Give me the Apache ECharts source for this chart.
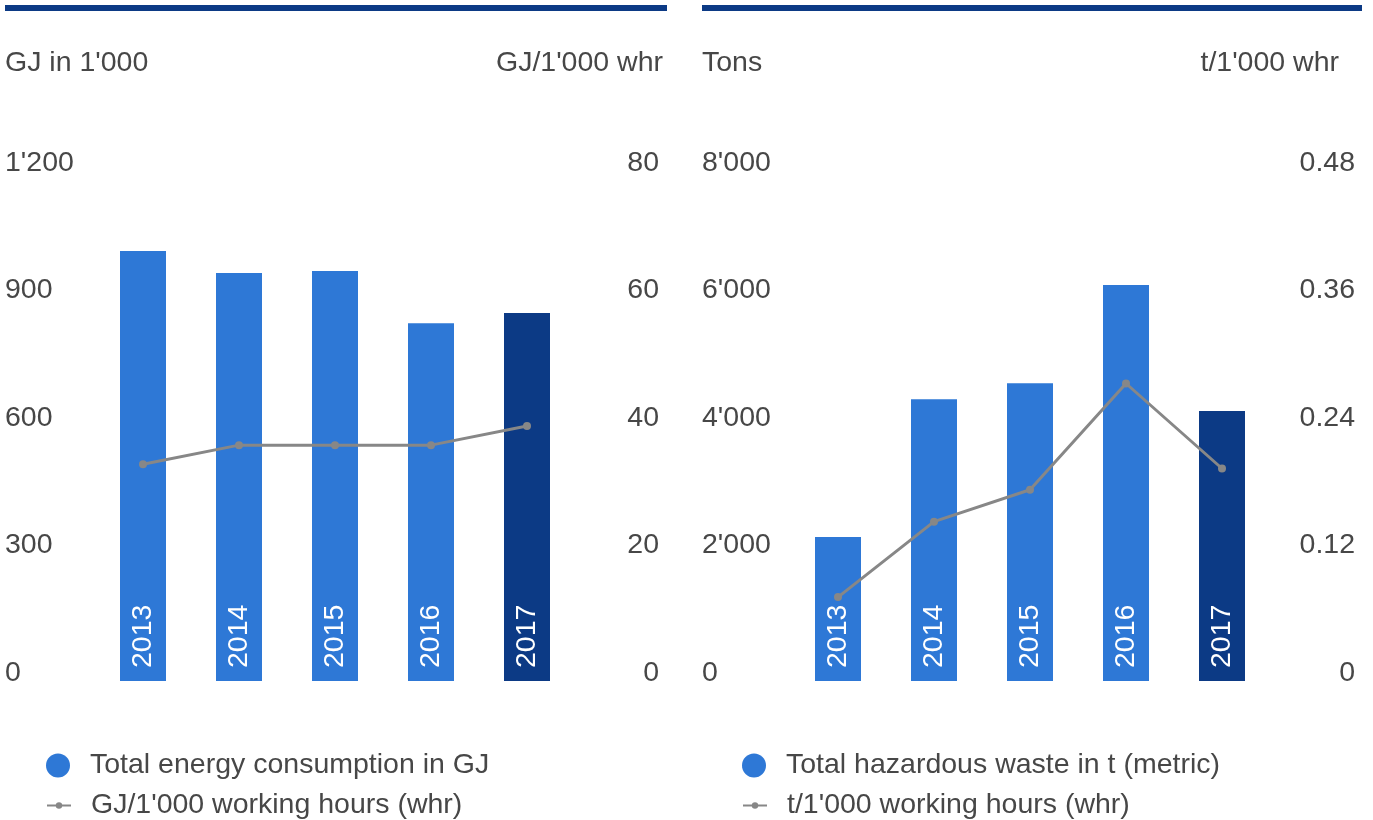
<!DOCTYPE html>
<html>
<head>
<meta charset="utf-8">
<script src="https://cdn.jsdelivr.net/npm/echarts@6/dist/echarts.min.js"></script>
<style>
html,body{margin:0;padding:0;background:#fff;}
#c{width:1373px;height:820px;}
</style>
</head>
<body>
<div id="c"></div>
<script>
const categories = ['2013', '2014', '2015', '2016', '2017'];
const energyValues = [1012, 960, 965, 842, 866];
const energyIntensity = [34, 37, 37, 37, 40];
const wasteValues = [2260, 4420, 4670, 6210, 4235];
const wasteIntensity = [0.079, 0.150, 0.180, 0.280, 0.200];
const energyTicks = {min: 0, max: 1200, interval: 300};
const energyRateTicks = {min: 0, max: 80, interval: 20};
const wasteTicks = {min: 0, max: 8000, interval: 2000};
const wasteRateTicks = {min: 0, max: 0.48, interval: 0.12};
const seriesNames = ['Total energy consumption in GJ', "GJ/1'000 working hours (whr)", 'Total hazardous waste in t (metric)', "t/1'000 working hours (whr)"];
const axisTitles = ["GJ in 1'000", "GJ/1'000 whr", 'Tons', "t/1'000 whr"];

const FONT = 'Liberation Sans, Arial, sans-serif';
const FS = 28.5;
const TXT = '#474747';
const BLUE = '#2e78d6';
const NAVY = '#0c3a85';
const GRAY = '#878787';

function thousands(v) {
  return String(Math.round(v)).replace(/\B(?=(\d{3})+(?!\d))/g, "'");
}
function decimals(v) {
  return v === 0 ? '0' : v.toFixed(2);
}
function barData(vals) {
  return vals.map((v, i) => i === vals.length - 1 ? {value: v, itemStyle: {color: NAVY}} : v);
}
function yAxis(grid, ticks, pos, margin, fmt) {
  return {
    type: 'value', gridIndex: grid, position: pos,
    min: ticks.min, max: ticks.max, interval: ticks.interval,
    splitLine: {show: false}, axisLine: {show: false}, axisTick: {show: false},
    axisLabel: {
      margin: margin, align: pos === 'left' ? 'left' : 'right',
      verticalAlign: 'bottom', lineHeight: 16,
      color: TXT, fontSize: FS, fontFamily: FONT, formatter: fmt
    }
  };
}
function title(text, pos) {
  return Object.assign({text: text, top: 49, padding: 0,
    textStyle: {color: TXT, fontSize: FS, fontWeight: 'normal', fontFamily: FONT}}, pos);
}
function legend(name, left, top, isLine) {
  return {
    data: [isLine ? name : {name: name, icon: 'circle'}],
    left: left, top: top, padding: 0,
    itemWidth: 24, itemHeight: isLine ? 8 : 24,
    textStyle: {color: TXT, fontSize: FS, fontFamily: FONT, padding: [0, 0, 0, 15]}
  };
}
const barLabel = {
  show: true, position: 'insideBottom', rotate: 90, align: 'left', verticalAlign: 'middle',
  distance: 13, color: '#fff', fontSize: FS, fontFamily: FONT, formatter: '{b}'
};

const chart = echarts.init(document.getElementById('c'));
chart.setOption({
  animation: false,
  backgroundColor: '#fff',
  title: [
    title(axisTitles[0], {left: 5}),
    title(axisTitles[1], {right: 1373 - 663}),
    title(axisTitles[2], {left: 702}),
    title(axisTitles[3], {right: 1373 - 1339})
  ],
  graphic: [
    {type: 'rect', shape: {x: 5, y: 5, width: 662, height: 6}, style: {fill: NAVY}},
    {type: 'rect', shape: {x: 702, y: 5, width: 660, height: 6}, style: {fill: NAVY}}
  ],
  legend: [
    legend(seriesNames[0], 46, 751, false),
    legend(seriesNames[1], 46, 791, true),
    legend(seriesNames[2], 742, 751, false),
    legend(seriesNames[3], 742, 791, true)
  ],
  grid: [
    {left: 95, width: 480, top: 171, height: 510},
    {left: 790, width: 480, top: 171, height: 510}
  ],
  xAxis: [
    {type: 'category', gridIndex: 0, data: categories, axisLine: {show: false}, axisTick: {show: false}, axisLabel: {show: false}},
    {type: 'category', gridIndex: 1, data: categories, axisLine: {show: false}, axisTick: {show: false}, axisLabel: {show: false}}
  ],
  yAxis: [
    yAxis(0, energyTicks, 'left', 90, thousands),
    yAxis(0, energyRateTicks, 'right', 84, thousands),
    yAxis(1, wasteTicks, 'left', 88, thousands),
    yAxis(1, wasteRateTicks, 'right', 85, decimals)
  ],
  series: [
    {name: seriesNames[0], type: 'bar', xAxisIndex: 0, yAxisIndex: 0, barWidth: 46, color: BLUE, itemStyle: {color: BLUE}, data: barData(energyValues), label: barLabel},
    {name: seriesNames[1], type: 'line', xAxisIndex: 0, yAxisIndex: 1, color: GRAY, symbol: 'circle', symbolSize: 8, lineStyle: {color: GRAY, width: 3}, itemStyle: {color: GRAY}, data: energyIntensity},
    {name: seriesNames[2], type: 'bar', xAxisIndex: 1, yAxisIndex: 2, barWidth: 46, color: BLUE, itemStyle: {color: BLUE}, data: barData(wasteValues), label: barLabel},
    {name: seriesNames[3], type: 'line', xAxisIndex: 1, yAxisIndex: 3, color: GRAY, symbol: 'circle', symbolSize: 8, lineStyle: {color: GRAY, width: 3}, itemStyle: {color: GRAY}, data: wasteIntensity}
  ]
});
</script>
</body>
</html>
